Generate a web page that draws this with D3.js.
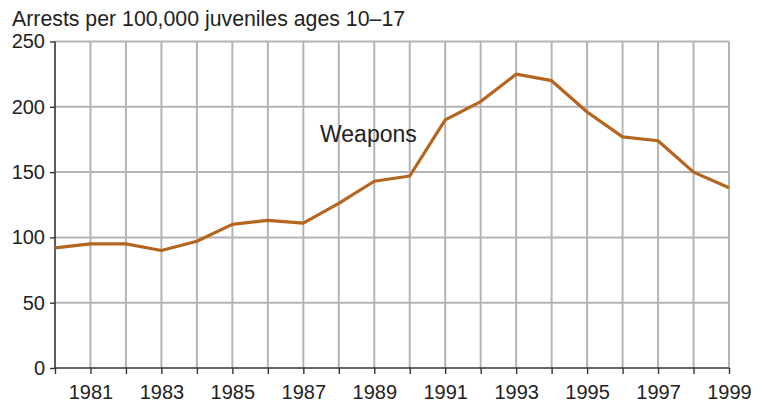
<!DOCTYPE html>
<html><head><meta charset="utf-8">
<script src="https://cdn.jsdelivr.net/npm/d3@7"></script>
<style>body{margin:0;background:#fff}svg{display:block}text{font-family:"Liberation Sans",Arial,sans-serif;fill:#222}</style>
</head><body>
<script>
const years = [1980,1981,1982,1983,1984,1985,1986,1987,1988,1989,1990,1991,1992,1993,1994,1995,1996,1997,1998,1999];
const weapons = [92,95,95,90,97,110,113,111,126,143,147,190,204,225,220,196,177,174,150,138];
const yTicks = [0,50,100,150,200,250];
const xLabelYears = [1981,1983,1985,1987,1989,1991,1993,1995,1997,1999];
const title = "Arrests per 100,000 juveniles ages 10\u201317";
const seriesLabel = "Weapons";

const W = 763, H = 402;
const m = {l:55, r:34, t:41.5, b:34};
const svg = d3.select("body").append("svg").attr("width",W).attr("height",H);
const x = d3.scaleLinear().domain([1980,1999]).range([m.l, W-m.r]);
const y = d3.scaleLinear().domain([0,250]).range([H-m.b, m.t]);

// grid
svg.append("g").selectAll("line").data(years.slice(1)).join("line")
  .attr("x1",d=>x(d)).attr("x2",d=>x(d)).attr("y1",y(250)).attr("y2",y(0))
  .attr("stroke","#b4b4b4").attr("stroke-width",2);
svg.append("g").selectAll("line").data(yTicks.slice(1)).join("line")
  .attr("x1",x(1980)).attr("x2",x(1999)).attr("y1",d=>y(d)).attr("y2",d=>y(d))
  .attr("stroke","#b4b4b4").attr("stroke-width",2);

// axes
const xAxis = svg.append("g").attr("transform",`translate(0,${y(0)})`)
  .call(d3.axisBottom(x).tickValues(years).tickSize(6).tickFormat(d=>xLabelYears.includes(d)?d:""));
const yAxis = svg.append("g").attr("transform",`translate(${x(1980)},0)`)
  .call(d3.axisLeft(y).tickValues(yTicks).tickSize(5).tickFormat(d=>d));
[xAxis,yAxis].forEach(g=>{
  g.select(".domain").attr("stroke","#333").attr("stroke-width",1.6);
  g.selectAll(".tick line").attr("stroke","#333").attr("stroke-width",1.4);
  g.selectAll("text").attr("font-size",20).attr("font-family","Liberation Sans, Arial, sans-serif").attr("fill","#222");
});
xAxis.select(".domain").attr("d",`M${x(1980)},0H${x(1999)}`);
yAxis.select(".domain").attr("d",`M0,${y(0)}V${y(250)}`);
xAxis.selectAll("text").attr("y",0).attr("dy",0).attr("transform","translate(0,31)");
yAxis.selectAll("text").attr("dx","-2px");

// line
const line = d3.line().x((d,i)=>x(years[i])).y(d=>y(d));
svg.append("path").datum(weapons).attr("d",line).attr("fill","none")
  .attr("stroke","#b4661f").attr("stroke-width",3.2).attr("stroke-linejoin","round");

svg.append("text").attr("x",12).attr("y",26).attr("font-size",21.3).text(title);
svg.append("text").attr("x",320).attr("y",142).attr("font-size",23).text(seriesLabel);
</script>
</body></html>
